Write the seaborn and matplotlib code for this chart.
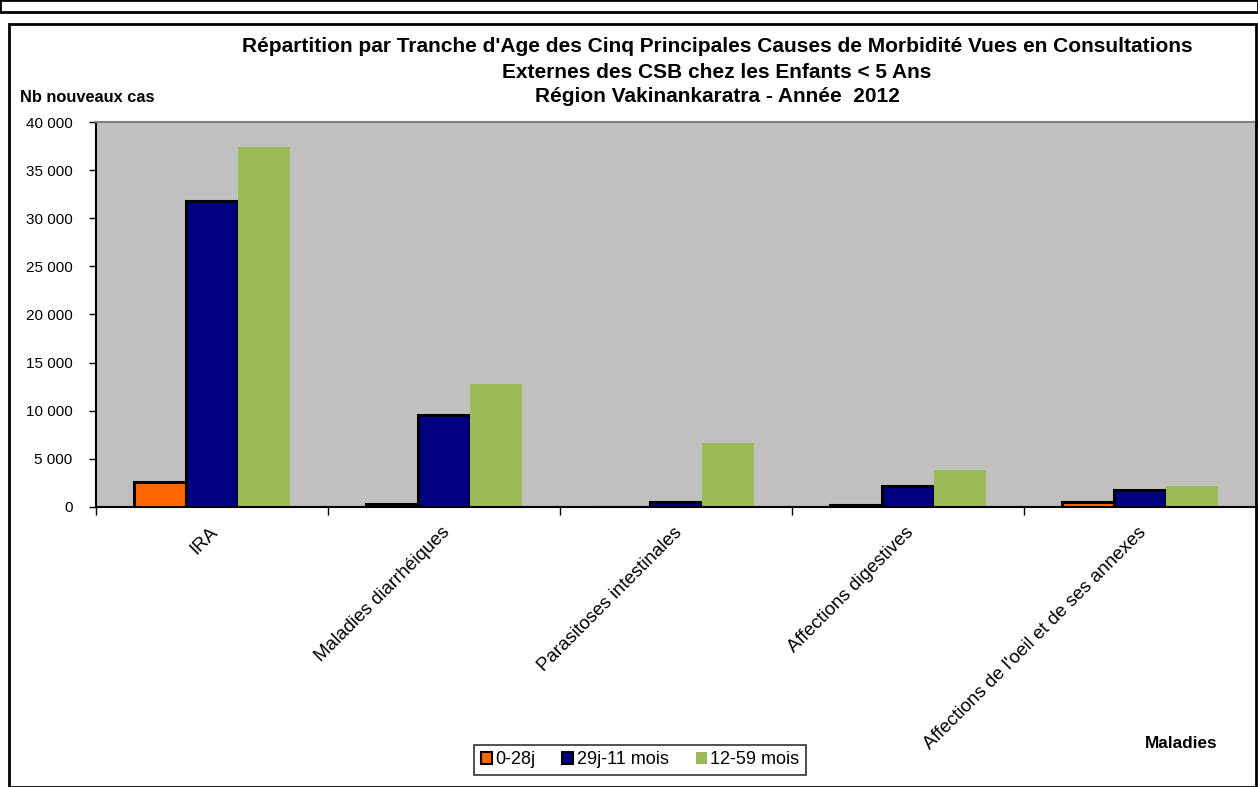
import matplotlib
matplotlib.use("Agg")
import matplotlib.pyplot as plt
import seaborn as sns
import pandas as pd
from matplotlib.patches import Rectangle, Patch
from matplotlib.ticker import FuncFormatter, MultipleLocator

categories = ["IRA", "Maladies diarrhéiques", "Parasitoses intestinales",
              "Affections digestives", "Affections de l'oeil et de ses annexes"]
series_names = ["0-28j", "29j-11 mois", "12-59 mois"]
v_0_28j = [2600, 350, 30, 250, 500]
v_29j_11m = [31800, 9600, 500, 2200, 1800]
v_12_59m = [37400, 12800, 6600, 3800, 2150]
colors = ["#FF6600", "#000080", "#9BBB59"]

rows = []
for name, vals in zip(series_names, [v_0_28j, v_29j_11m, v_12_59m]):
    for c, v in zip(categories, vals):
        rows.append({"Maladie": c, "Tranche": name, "Cas": v})
df = pd.DataFrame(rows)

sns.set_theme(style="white")
plt.rcParams["font.family"] = ["Liberation Sans", "DejaVu Sans"]
plt.rcParams["text.color"] = "black"
plt.rcParams["xtick.color"] = "black"
plt.rcParams["ytick.color"] = "black"
plt.rcParams["xtick.labelcolor"] = "black"
plt.rcParams["ytick.labelcolor"] = "black"

fig = plt.figure(figsize=(12.58, 7.87), dpi=100)
ax = fig.add_axes([96/1258, 1-507/787, (1256-96)/1258, (507-122)/787])

sns.barplot(data=df, x="Maladie", y="Cas", hue="Tranche", order=categories,
            hue_order=series_names, palette=colors, width=0.67, ax=ax,
            saturation=1, legend=True, errorbar=None)

for i, cont in enumerate(ax.containers):
    for p in cont.patches:
        if i < 2:
            p.set_edgecolor("black")
            p.set_linewidth(2.2)
        else:
            p.set_edgecolor("none")
            p.set_linewidth(0)

ax.set_facecolor("#C0C0C0")
ax.set_ylim(0, 40000)
ax.set_xlim(-0.5, len(categories) - 0.5)
ax.yaxis.set_major_locator(MultipleLocator(5000))
ax.yaxis.set_major_formatter(FuncFormatter(lambda v, p: f"{int(v):,}".replace(",", " ")))
ax.tick_params(axis="y", direction="out", length=5, width=1, color="black",
               labelsize=11, pad=12, left=True, labelcolor="black")
ax.set_xticks([i + 0.5 for i in range(-1, len(categories))])
ax.set_xticklabels([])
ax.tick_params(axis="x", direction="out", length=6, width=1, color="black", bottom=True)
for i, c in enumerate(categories):
    ax.annotate(c, xy=(i, 0), xycoords=("data", "axes fraction"),
                xytext=(-2, -12), textcoords="offset points",
                rotation=45, ha="right", va="top", rotation_mode="anchor",
                fontsize=13.5, color="black")
ax.set_xlabel("")
ax.set_ylabel("")
for s in ["top", "right"]:
    ax.spines[s].set_color("#808080")
    ax.spines[s].set_linewidth(1.5)
for s in ["left", "bottom"]:
    ax.spines[s].set_color("black")
    ax.spines[s].set_linewidth(1.5)

leg = ax.get_legend()
leg.remove()
hs = [Patch(facecolor=colors[0], edgecolor="black", linewidth=1.5),
      Patch(facecolor=colors[1], edgecolor="black", linewidth=1.5),
      Patch(facecolor=colors[2], edgecolor="none")]
fl = fig.legend(hs, series_names, loc="center", bbox_to_anchor=(640/1258, 1-760/787),
                ncol=3, frameon=True, fancybox=False, fontsize=13,
                handlelength=0.6, handleheight=0.6, handletextpad=0.2,
                columnspacing=1.5, borderpad=0.35, labelcolor="black")
fl.get_frame().set_edgecolor("black")
fl.get_frame().set_linewidth(1.2)

fig.text(717/1258, 1-72/787,
         "Répartition par Tranche d'Age des Cinq Principales Causes de Morbidité Vues en Consultations\n"
         "Externes des CSB chez les Enfants < 5 Ans\nRégion Vakinankaratra - Année  2012",
         ha="center", va="center", fontsize=15, fontweight="bold", linespacing=1.4,
         color="black")
fig.text(20/1258, 1-97/787, "Nb nouveaux cas", ha="left", va="center",
         fontsize=11.8, fontweight="bold", color="black")
fig.text(1181/1258, 1-743/787, "Maladies", ha="center", va="center",
         fontsize=12.3, fontweight="bold", color="black")

fig.patches.append(Rectangle((9/1258, 0), (1256-9)/1258, 1-24/787, transform=fig.transFigure,
                             fill=False, edgecolor="black", linewidth=2))
fig.patches.append(Rectangle((0, 1-12/787), 1, 12/787, transform=fig.transFigure,
                             fill=False, edgecolor="black", linewidth=2))

fig.savefig("out.png", dpi=100)
